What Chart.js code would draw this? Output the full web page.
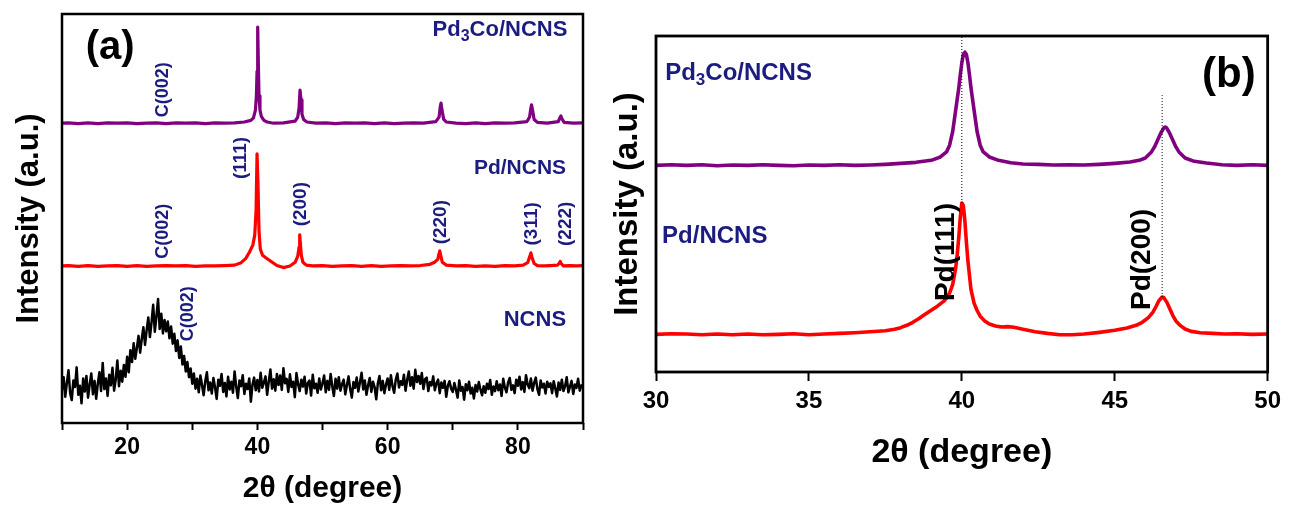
<!DOCTYPE html>
<html>
<head>
<meta charset="utf-8">
<script src="https://cdn.jsdelivr.net/npm/chart.js@4.4.1/dist/chart.umd.min.js"></script>
<style>
  html, body { margin: 0; padding: 0; background: #fff; }
  #wrap { position: relative; width: 1289px; height: 506px; }
  canvas { position: absolute; top: 0; }
</style>
</head>
<body>
<div id="wrap">
  <canvas id="xrdFull" width="600" height="506" style="left:0"></canvas>
  <canvas id="xrdZoom" width="689" height="506" style="left:600px"></canvas>
</div>
<script>
// ---- (a) full scan, 10-90 deg, traces stacked with offsets ----
const ncnsStart = 10, ncnsStep = 0.25;
const ncns = [
  8.1, 11.2, 6.4, 9.8, 12.9, 7.3, 5.6, 10.4, 8.8, 13.6, 6.9, 9.1, 4.8, 10.9, 7.7, 11.5, 6.2, 9.4, 12.1, 7.0,
  10.3, 5.9, 9.6, 12.4, 7.8, 14.7, 8.3, 10.9, 6.6, 11.8, 9.2, 13.5, 7.9, 10.6, 15.3, 9.0, 12.8, 10.1, 14.2, 11.3,
  16.2, 12.4, 17.8, 14.9, 19.5, 15.7, 18.4, 21.3, 17.2, 20.6, 23.4, 19.1, 22.7, 25.8, 21.0, 24.6, 28.9, 22.3, 26.1, 30.3,
  23.0, 26.7, 21.9, 25.2, 22.4, 24.8, 20.7, 23.6, 19.4, 21.8, 17.6, 20.2, 15.9, 18.7, 14.3, 16.4, 12.6, 14.9, 11.2, 13.3,
  9.6, 12.1, 8.4, 10.8, 7.5, 11.6, 9.3, 6.8, 10.2, 12.4, 8.0, 9.9, 7.2, 11.0, 8.7, 5.9, 10.6, 9.1, 12.0, 7.6,
  9.8, 6.5, 11.3, 8.2, 10.1, 7.4, 12.6, 8.9, 6.1, 10.4, 9.0, 11.7, 7.1, 9.6, 8.3, 10.9, 5.2, 9.4, 11.1, 8.0,
  10.5, 7.7, 12.3, 8.6, 9.9, 11.4, 6.9, 10.2, 13.1, 8.4, 10.7, 7.9, 12.0, 9.3, 11.6, 8.1, 13.4, 9.7, 10.8, 7.6,
  11.9, 8.8, 10.1, 6.3, 12.2, 9.5, 7.8, 10.6, 8.9, 11.3, 7.2, 9.8, 10.4, 6.7, 11.8, 8.5, 9.6, 7.4, 10.9, 8.2,
  9.7, 11.6, 7.5, 10.3, 8.1, 12.0, 9.0, 6.6, 10.8, 8.4, 11.2, 7.9, 9.5, 10.6, 7.0, 9.3, 11.4, 8.3, 6.2, 10.0,
  8.6, 11.1, 7.7, 9.9, 12.3, 8.2, 10.4, 6.9, 9.2, 11.0, 7.6, 10.1, 8.8, 5.8, 9.7, 11.5, 8.0, 10.3, 7.3, 9.4,
  10.9, 8.1, 11.7, 9.0, 7.4, 10.6, 12.1, 8.7, 10.2, 9.3, 11.8, 7.9, 10.5, 12.6, 9.1, 11.2, 8.4, 13.0, 10.0, 11.5,
  9.6, 12.2, 8.3, 10.7, 11.1, 7.8, 10.0, 9.2, 11.4, 8.0, 9.7, 10.6, 7.3, 9.9, 8.6, 10.3, 6.4, 9.1, 10.2, 8.4,
  7.6, 9.8, 8.1, 6.2, 10.4, 7.9, 8.8, 5.7, 9.5, 8.0, 10.1, 7.2, 8.6, 6.0, 9.3, 7.7, 10.0, 8.2, 6.8, 9.0,
  7.4, 9.6, 8.3, 10.5, 6.9, 8.9, 7.8, 10.2, 8.0, 9.4, 6.6, 10.8, 8.7, 7.5, 9.9, 11.0, 8.1, 9.2, 7.3, 10.6,
  9.1, 11.3, 8.2, 10.0, 7.6, 11.7, 9.4, 8.5, 10.9, 7.9, 9.8, 11.1, 8.3, 6.9, 10.4, 8.7, 9.6, 7.2, 10.1, 8.8,
  9.7, 7.3, 10.2, 8.4, 6.5, 9.9, 8.1, 10.6, 7.8, 9.0, 11.2, 7.5, 8.9, 10.3, 7.1, 9.4, 8.6, 10.8, 7.9, 9.2,
  8.7
];

const pdTheta = [10, 11, 12.5, 14, 15.5, 17, 18.5, 20, 21.5, 23, 24.5, 26, 27.5, 29, 30.5, 32, 33.5, 35, 36.5,
  37.5, 38.2, 38.8, 39.3, 39.6, 39.8, 39.95, 40.1, 40.25, 40.45, 40.8, 41.3, 42, 43, 44, 45, 45.8,
  46.2, 46.4, 46.5, 46.6, 46.75, 47, 47.5, 48.5, 50, 51.5, 53, 54.5, 56, 57.5, 59, 60.5, 62, 63.5, 65,
  66.5, 67.2, 67.7, 67.9, 68, 68.15, 68.4, 69, 70.5, 72, 73.5, 75, 76.5, 78, 79.5, 80.8, 81.5, 81.85,
  82, 82.15, 82.5, 83, 84, 85, 86.1, 86.4, 86.5, 86.65, 87, 88, 89, 90];
const pdNcns = [38.4, 38.5, 38.3, 38.5, 38.3, 38.4, 38.5, 38.3, 38.5, 38.3, 38.4, 38.5, 38.4, 38.5, 38.3, 38.4, 38.4, 38.5, 38.6,
  39.2, 40.2, 41.8, 43.5, 46.0, 52.0, 65.8, 58.0, 47.0, 42.5, 41.0, 40.4, 39.6, 38.5, 38.0, 38.4, 39.3,
  40.8, 43.0, 46.0, 44.0, 41.0, 39.3, 38.6, 38.4, 38.5, 38.3, 38.4, 38.5, 38.3, 38.5, 38.3, 38.4, 38.5, 38.4, 38.5,
  38.8, 39.3, 40.0, 41.5, 42.1, 41.0, 39.3, 38.6, 38.4, 38.5, 38.3, 38.4, 38.3, 38.5, 38.4,
  38.6, 39.2, 40.8, 41.6, 40.6, 39.0, 38.5, 38.4, 38.5, 38.6, 39.2, 39.5, 39.0, 38.4, 38.5, 38.4, 38.5];

const pd3coTheta = [10, 11, 12.5, 14, 15.5, 17, 18.5, 20, 21.5, 23, 24.5, 26, 27.5, 29, 30.5, 32, 33.5, 35, 36.5,
  38, 39, 39.4, 39.7, 39.85, 39.95, 40.05, 40.15, 40.25, 40.4, 40.6, 41, 41.5, 42.5, 44, 45.8, 46.2, 46.4,
  46.55, 46.7, 46.85, 47.1, 47.6, 49, 50.5, 52, 53.5, 55, 56.5, 58, 59.5, 61, 62.5, 64, 65.5, 67.4, 67.9,
  68.1, 68.2, 68.35, 68.6, 69, 70.5, 72, 73.5, 75, 76.5, 78, 79.5, 81.4, 81.8, 82, 82.1, 82.25, 82.5, 83,
  84.5, 86.2, 86.5, 86.6, 86.75, 87.1, 88.5, 90];
const pd3coNcns = [73.3, 73.4, 73.2, 73.4, 73.2, 73.4, 73.3, 73.4, 73.2, 73.3, 73.4, 73.2, 73.4, 73.3, 73.4, 73.2, 73.4, 73.3, 73.4,
  73.6, 74.0, 74.6, 76.5, 80.0, 86.0, 96.8, 88.0, 80.0, 76.5, 75.0, 74.0, 73.6, 73.3, 73.4, 73.8, 74.8, 77.0,
  81.4, 79.0, 75.5, 74.2, 73.6, 73.3, 73.4, 73.2, 73.4, 73.3, 73.4, 73.2, 73.4, 73.2, 73.3, 73.4, 73.3, 73.7, 74.8,
  77.5, 78.2, 76.5, 74.3, 73.6, 73.3, 73.2, 73.4, 73.2, 73.4, 73.3, 73.4, 73.7, 74.8, 77.0, 77.8, 76.5, 74.2, 73.5,
  73.3, 73.7, 74.8, 75.1, 74.4, 73.5, 73.3, 73.4];

// ---- (b) close-up, 30-50 deg ----
const zoomPdTheta = [30, 30.5, 31, 31.5, 32, 32.5, 33, 33.5, 34, 34.5, 35, 35.5, 36, 36.5, 37, 37.5, 37.8, 38, 38.2,
  38.4, 38.6, 38.8, 39, 39.2, 39.4, 39.5, 39.6, 39.7, 39.8, 39.85, 39.9, 39.95, 40, 40.05, 40.1, 40.15, 40.2,
  40.3, 40.4, 40.5, 40.6, 40.75, 40.9, 41.1, 41.3, 41.5, 41.7, 42, 42.4, 42.8, 43.2, 43.6, 44, 44.5, 45,
  45.4, 45.7, 45.9, 46.1, 46.25, 46.35, 46.45, 46.55, 46.6, 46.7, 46.8, 46.9, 47, 47.15, 47.3, 47.5, 47.8,
  48.2, 48.6, 49, 49.5, 50];
const zoomPd = [11.2, 11.4, 11.3, 11.1, 11.3, 11.1, 11.3, 11.1, 11.2, 11.4, 11.1, 11.3, 11.5, 11.7, 12.0, 12.3, 12.7, 13.2, 13.9,
  14.8, 15.9, 17.2, 18.4, 19.6, 21.0, 22.0, 23.5, 26.0, 31.0, 35.0, 40.0, 46.0, 50.3, 49.5, 45.0, 38.5, 33.0,
  24.5, 20.5, 18.3, 16.6, 15.2, 14.3, 13.7, 13.4, 13.5, 13.3, 12.7, 12.0, 11.5, 11.1, 11.1, 11.3, 11.8, 12.4,
  13.1, 13.9, 14.8, 16.2, 17.8, 19.5, 21.3, 22.3, 22.2, 20.8, 18.8, 16.8, 15.2, 13.8, 12.8, 12.1, 11.7,
  11.5, 11.3, 11.4, 11.2, 11.3];

const zoomPd3coTheta = [30, 30.5, 31, 31.5, 32, 32.5, 33, 33.5, 34, 34.5, 35, 35.5, 36, 36.5, 37, 37.5, 38, 38.5, 39,
  39.3, 39.5, 39.6, 39.7, 39.8, 39.9, 39.95, 40, 40.05, 40.1, 40.15, 40.2, 40.25, 40.3, 40.4, 40.5, 40.6, 40.7,
  40.9, 41.2, 41.6, 42, 42.5, 43, 43.5, 44, 44.5, 45, 45.5, 45.8, 46, 46.2, 46.3, 46.4, 46.5, 46.6, 46.65,
  46.7, 46.8, 46.9, 47, 47.1, 47.3, 47.6, 48, 48.5, 49, 49.5, 50];
const zoomPd3co = [61.5, 61.7, 61.5, 61.7, 61.4, 61.6, 61.5, 61.7, 61.5, 61.4, 61.6, 61.5, 61.7, 61.5, 61.6, 61.8, 62.1, 62.4, 63.0,
  64.0, 65.5, 67.5, 71.5, 78.0, 84.5, 88.5, 92.0, 94.5, 95.2, 94.5, 92.0, 88.5, 84.5, 78.0, 71.5, 67.5, 65.5,
  64.0, 63.0, 62.3, 61.9, 61.8, 61.6, 61.7, 61.6, 61.8, 62.1, 62.5, 63.0, 63.7, 65.5, 67.0, 69.0, 71.0, 72.6, 72.9,
  72.6, 71.0, 69.0, 67.0, 65.5, 63.7, 62.7, 62.2, 61.7, 61.5, 61.7, 61.5];

// dotted guides at the Pd reflections: [theta, from, to]
const guideLines = [[40.0, 50.3, 100], [46.55, 22.3, 82.4]];

const xTicksFull = [20, 40, 60, 80];

const FONT = "'Liberation Sans', Arial, sans-serif";
const NAVY = '#1c1c80';
const PURPLE = '#800080';
const RED = '#ff0000';

const pts = (xs, ys) => xs.map((x, i) => ({ x, y: ys[i] }));

function trace(data, color, width) {
  return {
    data, borderColor: color, borderWidth: width, pointRadius: 0, tension: 0, fill: false,
    borderJoinStyle: 'round', borderCapStyle: 'round'
  };
}

// box around the plot area
const framePlugin = {
  id: 'frame',
  afterDraw(chart, args, opts) {
    const { ctx, chartArea: a } = chart;
    ctx.save();
    ctx.strokeStyle = '#000';
    ctx.lineWidth = opts.width;
    ctx.strokeRect(a.left, a.top, a.right - a.left, a.bottom - a.top);
    ctx.restore();
  }
};

// text placed at data coordinates; an object part {low: '3'} is a subscript
const notePlugin = {
  id: 'notes',
  afterDraw(chart, args, opts) {
    const { ctx, scales: { x, y } } = chart;
    opts.items.forEach(it => {
      const parts = Array.isArray(it.text) ? it.text : [it.text];
      const big = `bold ${it.size}px ${FONT}`;
      const small = `bold ${Math.round(it.size * 0.72)}px ${FONT}`;
      const isLow = p => typeof p === 'object';
      const str = p => (isLow(p) ? p.low : p);
      ctx.save();
      ctx.translate(x.getPixelForValue(it.x), y.getPixelForValue(it.y));
      if (it.rotate) ctx.rotate(-Math.PI / 2);
      ctx.fillStyle = it.color || NAVY;
      ctx.textBaseline = 'middle';
      ctx.textAlign = 'left';
      const widths = parts.map(p => { ctx.font = isLow(p) ? small : big; return ctx.measureText(str(p)).width; });
      const total = widths.reduce((s, w) => s + w, 0);
      let cx = it.align === 'left' ? 0 : it.align === 'right' ? -total : -total / 2;
      parts.forEach((p, i) => {
        ctx.font = isLow(p) ? small : big;
        ctx.fillText(str(p), cx, isLow(p) ? it.size * 0.32 : 0);
        cx += widths[i];
      });
      ctx.restore();
    });
  }
};

function xAxis(cfg) {
  return {
    type: 'linear', min: cfg.min, max: cfg.max,
    border: { display: false },
    grid: { drawOnChartArea: false, drawTicks: true, tickLength: cfg.tickLength, tickWidth: 2, tickColor: '#000', color: '#000' },
    ticks: {
      stepSize: cfg.step, autoSkip: false, maxRotation: 0, color: '#000', padding: cfg.tickPad,
      font: { family: FONT, size: cfg.tickSize, weight: 'bold', lineHeight: 1 },
      callback: cfg.label
    },
    title: {
      display: true, text: '2θ (degree)', color: '#000',
      font: { family: FONT, size: cfg.titleSize, weight: 'bold', lineHeight: 1 },
      padding: { top: 0, bottom: cfg.titlePad }
    },
    afterFit: s => { s.height = cfg.height; }
  };
}

function yAxis(cfg) {
  return {
    min: 0, max: 100,
    border: { display: false }, grid: { display: false }, ticks: { display: false },
    title: {
      display: true, text: 'Intensity (a.u.)', color: '#000',
      font: { family: FONT, size: cfg.titleSize, weight: 'bold', lineHeight: 1 },
      padding: { top: cfg.titlePad, bottom: 0 }
    },
    afterFit: s => { s.width = cfg.width; }
  };
}

const pd3coName = ['Pd', { low: '3' }, 'Co/NCNS'];

new Chart(document.getElementById('xrdFull'), {
  type: 'line',
  data: {
    datasets: [
      trace(ncns.map((v, i) => ({ x: ncnsStart + i * ncnsStep, y: v })), '#000', 2.5),
      trace(pts(pdTheta, pdNcns), RED, 3.2),
      trace(pts(pd3coTheta, pd3coNcns), PURPLE, 3.2)
    ]
  },
  options: {
    responsive: false, animation: false,
    layout: { padding: { left: 0, top: 14, right: 17, bottom: 0 } },
    scales: {
      x: xAxis({ min: 10, max: 90, step: 10, tickLength: 7, tickPad: 6, tickSize: 23, titleSize: 30, titlePad: 2, height: 83,
                 label: v => (xTicksFull.includes(v) ? v : '') }),
      y: yAxis({ titleSize: 31, titlePad: 14, width: 62 })
    },
    plugins: {
      legend: { display: false }, tooltip: { enabled: false },
      frame: { width: 2.5 },
      notes: {
        items: [
          { text: '(a)', x: 17.4, y: 91.7, size: 40, color: '#000' },
          { text: pd3coName, x: 87.6, y: 96.1, size: 22, align: 'right' },
          { text: 'Pd/NCNS', x: 87.4, y: 62.3, size: 21, align: 'right' },
          { text: 'NCNS', x: 87.4, y: 25.2, size: 22, align: 'right' },
          { text: 'C(002)', x: 25.5, y: 81.5, size: 18, rotate: true },
          { text: 'C(002)', x: 25.5, y: 46.9, size: 18, rotate: true },
          { text: 'C(002)', x: 29.4, y: 26.7, size: 18, rotate: true },
          { text: '(111)', x: 37.5, y: 64.8, size: 19, rotate: true },
          { text: '(200)', x: 46.6, y: 53.5, size: 19, rotate: true },
          { text: '(220)', x: 68.1, y: 49.1, size: 19, rotate: true },
          { text: '(311)', x: 82.2, y: 48.7, size: 19, rotate: true },
          { text: '(222)', x: 87.3, y: 48.7, size: 19, rotate: true }
        ]
      }
    }
  },
  plugins: [framePlugin, notePlugin]
});

new Chart(document.getElementById('xrdZoom'), {
  type: 'line',
  data: {
    datasets: [
      ...guideLines.map(([t, lo, hi]) => ({
        data: [{ x: t, y: lo }, { x: t, y: hi }], borderColor: '#000', borderWidth: 1,
        borderDash: [1, 2], pointRadius: 0, fill: false
      })),
      trace(pts(zoomPdTheta, zoomPd), RED, 3.6),
      trace(pts(zoomPd3coTheta, zoomPd3co), PURPLE, 3.6)
    ]
  },
  options: {
    responsive: false, animation: false,
    layout: { padding: { left: 0, top: 36, right: 18, bottom: 0 } },
    scales: {
      x: xAxis({ min: 30, max: 50, step: 5, tickLength: 9, tickPad: 8, tickSize: 24, titleSize: 34, titlePad: 36, height: 134,
                 label: v => v }),
      y: yAxis({ titleSize: 33, titlePad: 11, width: 56 })
    },
    plugins: {
      legend: { display: false }, tooltip: { enabled: false },
      frame: { width: 2.8 },
      notes: {
        items: [
          { text: '(b)', x: 48.73, y: 88.4, size: 42, color: '#000' },
          { text: pd3coName, x: 30.3, y: 89, size: 24, align: 'left' },
          { text: 'Pd/NCNS', x: 30.2, y: 40.5, size: 24, align: 'left' },
          { text: 'Pd(111)', x: 39.5, y: 35.7, size: 28, rotate: true, color: '#000' },
          { text: 'Pd(200)', x: 45.9, y: 33.5, size: 28, rotate: true, color: '#000' }
        ]
      }
    }
  },
  plugins: [framePlugin, notePlugin]
});
</script>
</body>
</html>
